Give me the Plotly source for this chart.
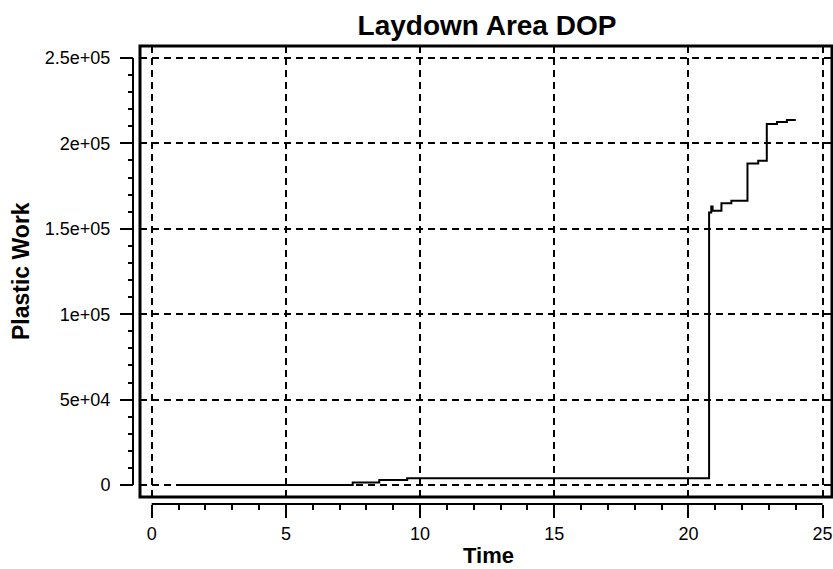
import plotly.graph_objects as go

# Plastic work history for the laydown area (DOP)
time = [1.0, 7.49, 8.48, 9.52, 20.77, 20.85, 20.9, 21.23, 21.6, 22.2, 22.6, 22.92, 23.3, 23.67, 24.0]
work = [0, 1500, 2900, 4000, 159500, 163000, 160500, 164900, 166400, 188300, 189900, 211400, 212600,
        213700, 213700]

x_ticks = [0, 5, 10, 15, 20, 25]
y_ticks = [0, 50000, 100000, 150000, 200000, 250000]
y_tick_text = ["0", "5e+04", "1e+05", "1.5e+05", "2e+05", "2.5e+05"]

W, H = 833, 569
ML, MR, MT, MB = 133, 1, 46, 65
plot_w = W - ML - MR
plot_h = H - MT - MB
x_dom0 = 7 / plot_w
y_dom0 = 7 / plot_h

FONT = "Liberation Sans, Arial, sans-serif"

fig = go.Figure()
fig.add_trace(go.Scatter(
    x=time, y=work, mode="lines",
    line=dict(color="black", width=2, shape="hv"),
    showlegend=False, hoverinfo="skip",
))

grid = dict(showgrid=True, gridcolor="black", gridwidth=2, griddash="7px,5px")

fig.update_layout(
    width=W, height=H,
    margin=dict(l=ML, r=MR, t=MT, b=MB, pad=0),
    plot_bgcolor="white", paper_bgcolor="white",
    font=dict(family=FONT, color="black", size=18),
    title=dict(text="<b>Laydown Area DOP</b>", x=487 / W, xanchor="center",
               y=1 - 25 / H, yanchor="middle", font=dict(family=FONT, size=28, color="black")),
    xaxis=dict(
        domain=[x_dom0, 1], range=[-0.436, 25.35], anchor="free", position=0,
        tickvals=x_ticks, ticks="outside", ticklen=13, tickwidth=2, tickcolor="black",
        minor=dict(dtick=1, ticks="outside", ticklen=5, tickwidth=2, tickcolor="black", showgrid=False),
        showline=False, zeroline=False, tickfont=dict(size=18), ticklabelstandoff=0,
        **grid,
    ),
    yaxis=dict(
        domain=[y_dom0, 1], range=[-7026, 257026], anchor="free", position=0,
        tickvals=y_ticks, ticktext=y_tick_text, ticks="outside", ticklen=13, tickwidth=2,
        tickcolor="black",
        minor=dict(dtick=10000, ticks="outside", ticklen=5, tickwidth=2, tickcolor="black", showgrid=False),
        showline=False, zeroline=False, tickfont=dict(size=18), ticklabelstandoff=6,
        **grid,
    ),
)

# thick frame around the plotting region
fig.add_shape(type="rect", xref="x domain", yref="y domain", x0=0, x1=1, y0=0, y1=1,
              line=dict(color="black", width=3), layer="above")
# detached axis lines spanning the tick range
fig.add_shape(type="line", xref="x", yref="paper", x0=x_ticks[0], x1=x_ticks[-1], y0=0, y1=0,
              line=dict(color="black", width=2))
fig.add_shape(type="line", xref="paper", yref="y", x0=0, x1=0, y0=y_ticks[0], y1=y_ticks[-1],
              line=dict(color="black", width=2))

fig.add_annotation(text="<b>Time</b>", xref="paper", yref="paper",
                   x=(488 - ML) / plot_w, y=-(555 - (H - MB)) / plot_h,
                   xanchor="center", yanchor="middle", showarrow=False,
                   font=dict(family=FONT, size=22, color="black"))
fig.add_annotation(text="<b>Plastic Work</b>", xref="paper", yref="paper",
                   x=(21 - ML) / plot_w, y=((H - MB) - 271) / plot_h, textangle=-90,
                   xanchor="center", yanchor="middle", showarrow=False,
                   font=dict(family=FONT, size=23, color="black"))

fig.write_html("out.html")
